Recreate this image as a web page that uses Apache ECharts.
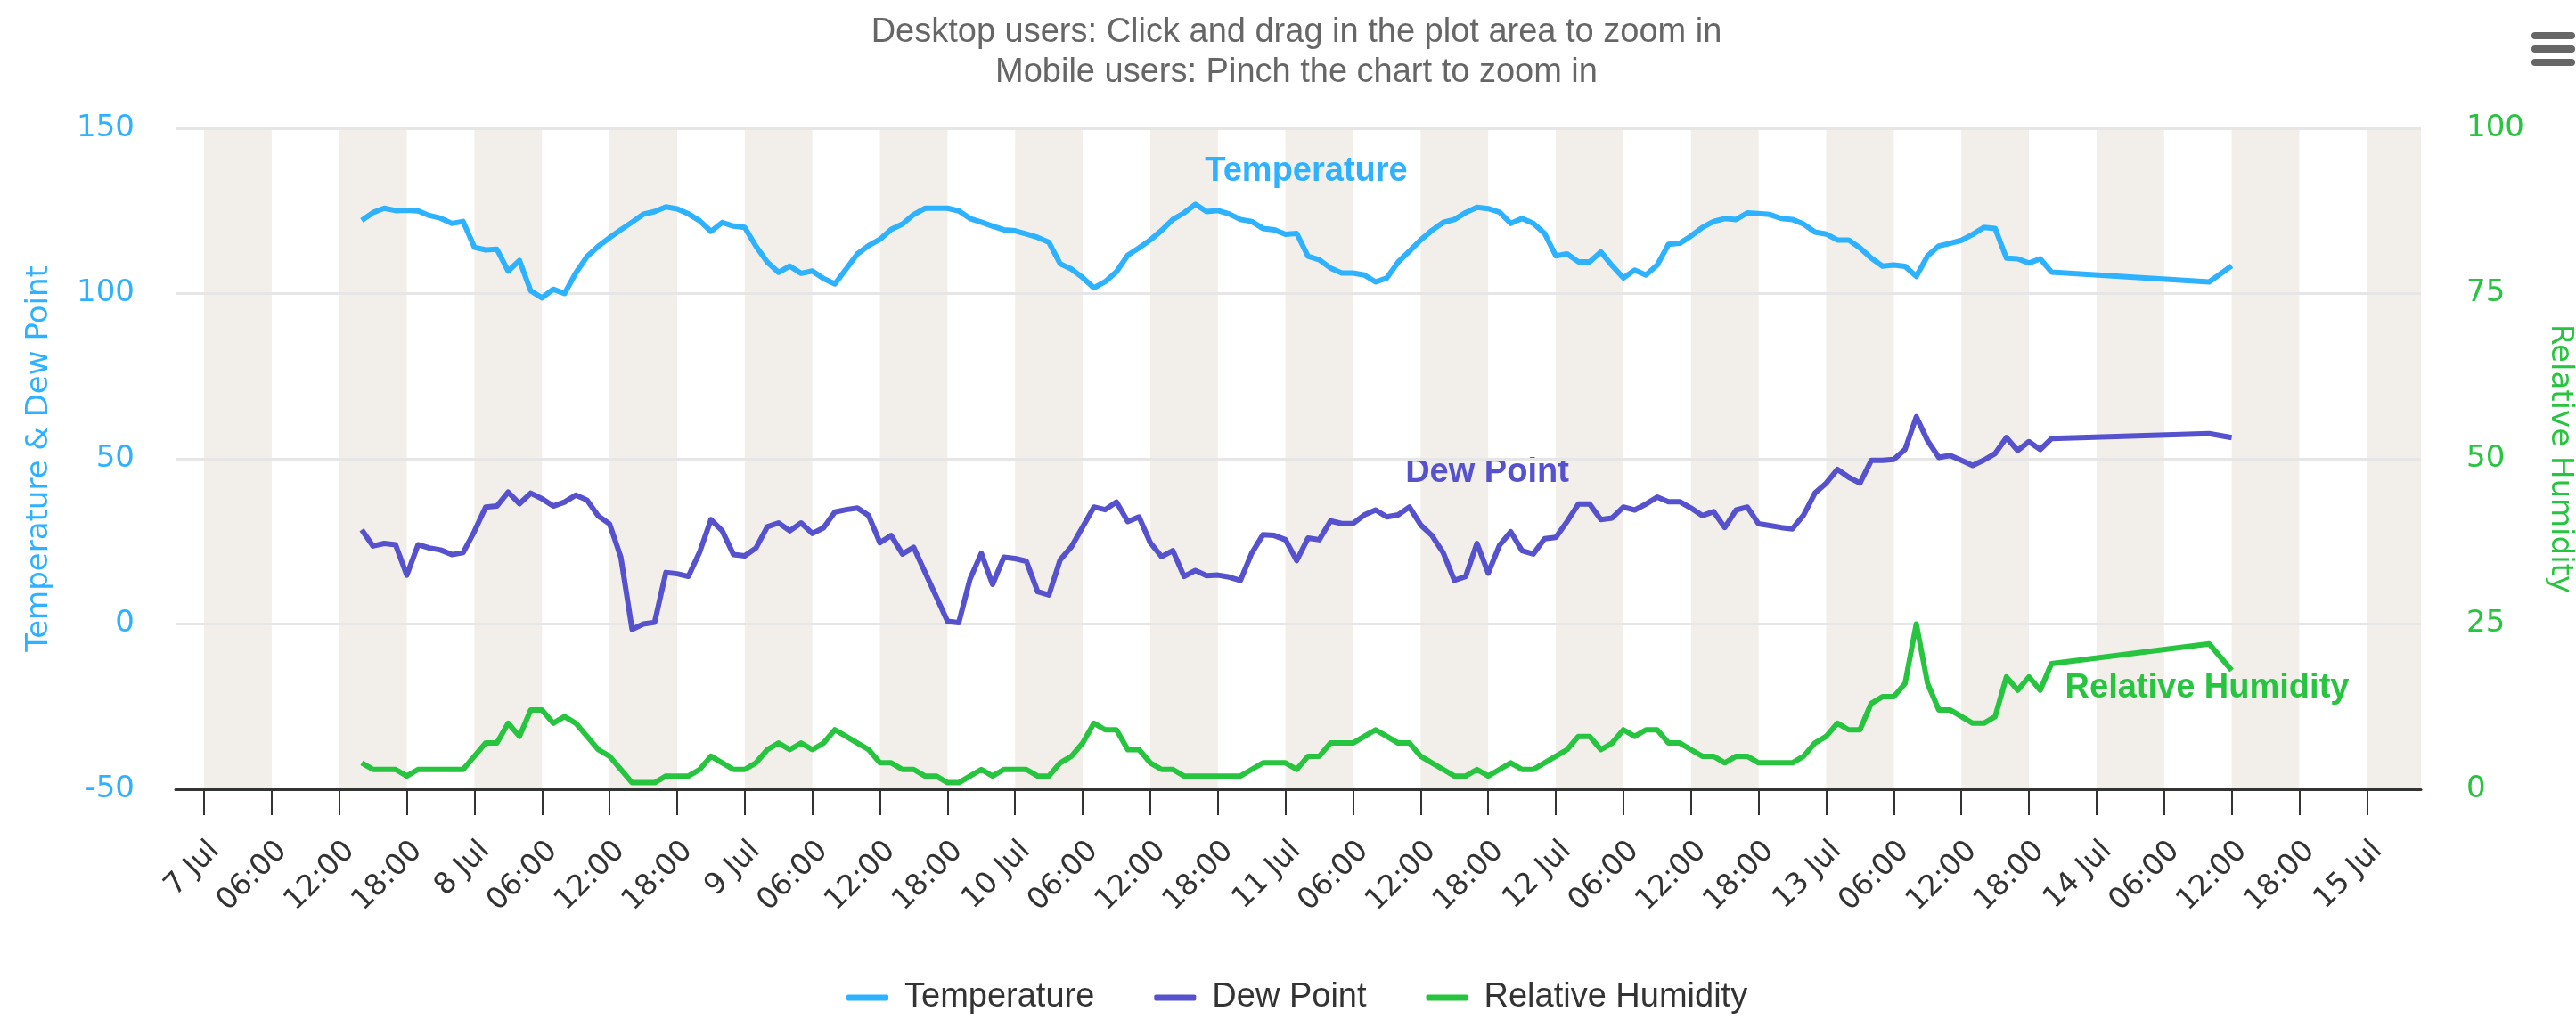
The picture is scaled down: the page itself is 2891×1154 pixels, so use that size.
<!DOCTYPE html>
<html>
<head>
<meta charset="utf-8">
<script src="https://cdn.jsdelivr.net/npm/echarts@6/dist/echarts.min.js"></script>
<style>
html, body { margin: 0; padding: 0; background: #fff; }
#chart { width: 2891px; height: 1154px; }
</style>
</head>
<body>
<div id="chart"></div>
<script>
// hours counted from 7 Jul 00:00
const hours = [
    14, 15, 16, 17, 18, 19, 20, 21, 22, 23,
    24, 25, 26, 27, 28, 29, 30, 31, 32, 33,
    34, 35, 36, 37, 38, 39, 40, 41, 42, 43,
    44, 45, 46, 47, 48, 49, 50, 51, 52, 53,
    54, 55, 56, 57, 58, 59, 60, 61, 62, 63,
    64, 65, 66, 67, 68, 69, 70, 71, 72, 73,
    74, 75, 76, 77, 78, 79, 80, 81, 82, 83,
    84, 85, 86, 87, 88, 89, 90, 91, 92, 93,
    94, 95, 96, 97, 98, 99, 100, 101, 102, 103,
    104, 105, 106, 107, 108, 109, 110, 111, 112, 113,
    114, 115, 116, 117, 118, 119, 120, 121, 122, 123,
    124, 125, 126, 127, 128, 129, 130, 131, 132, 133,
    134, 135, 136, 137, 138, 139, 140, 141, 142, 143,
    144, 145, 146, 147, 148, 149, 150, 151, 152, 153,
    154, 155, 156, 157, 158, 159, 160, 161, 162, 163,
    164, 178, 180
];

const temperature = [
    122.1, 124.5, 125.8, 125.1, 125.2, 125.0, 123.6, 122.8, 121.2, 121.8,
    114.0, 113.2, 113.4, 106.8, 110.0, 100.8, 98.7, 101.3, 100.0, 106.2,
    111.2, 114.3, 116.9, 119.3, 121.6, 124.0, 124.8, 126.2, 125.6, 124.1,
    122.0, 118.8, 121.5, 120.4, 120.0, 114.3, 109.5, 106.4, 108.3, 106.1,
    106.8, 104.5, 102.9, 107.4, 112.0, 114.5, 116.4, 119.4, 121.0, 123.9,
    125.8, 125.8, 125.8, 125.0, 122.7, 121.6, 120.4, 119.3, 119.0, 118.0,
    117.0, 115.5, 109.0, 107.4, 104.8, 101.7, 103.6, 106.6, 111.6, 113.8,
    116.2, 119.1, 122.4, 124.4, 127.0, 124.8, 125.1, 124.1, 122.4, 121.8,
    119.7, 119.3, 117.9, 118.2, 111.3, 110.2, 107.7, 106.2, 106.2, 105.6,
    103.5, 104.7, 109.5, 112.8, 116.2, 119.1, 121.5, 122.4, 124.5, 126.1,
    125.7, 124.6, 121.2, 122.7, 121.2, 118.2, 111.4, 112.0, 109.6, 109.6,
    112.6, 108.4, 104.7, 107.1, 105.6, 108.6, 114.9, 115.2, 117.4, 120.0,
    121.8, 122.7, 122.4, 124.4, 124.2, 123.9, 122.7, 122.4, 121.0, 118.6,
    118.0, 116.2, 116.2, 113.8, 110.7, 108.3, 108.6, 108.2, 105.2, 111.4,
    114.4, 115.2, 116.1, 117.9, 120.0, 119.7, 110.7, 110.5, 109.2, 110.5,
    106.5, 103.5, 108.4
];

const dewPoint = [
    28.5, 23.6, 24.4, 24.0, 14.8, 24.0, 23.0, 22.4, 21.0, 21.6,
    28.0, 35.4, 35.7, 39.9, 36.4, 39.6, 37.9, 35.7, 36.9, 39.0,
    37.5, 32.7, 30.3, 20.2, -1.6, 0.0, 0.5, 15.6, 15.2, 14.4,
    21.8, 31.6, 28.2, 21.0, 20.6, 23.0, 29.4, 30.6, 28.2, 30.6,
    27.4, 29.1, 33.9, 34.6, 35.1, 32.8, 24.6, 26.8, 21.2, 23.2,
    15.7, 8.3, 0.8, 0.4, 13.6, 21.4, 12.0, 20.2, 19.8, 19.0,
    9.8, 8.8, 19.4, 23.4, 29.4, 35.4, 34.6, 36.9, 31.0, 32.4,
    24.6, 20.4, 22.2, 14.4, 16.2, 14.6, 14.8, 14.2, 13.2, 21.4,
    27.0, 26.8, 25.5, 19.2, 26.0, 25.5, 31.2, 30.4, 30.4, 33.0,
    34.5, 32.4, 33.0, 35.4, 30.0, 26.8, 21.6, 13.2, 14.4, 24.4,
    15.4, 23.8, 27.9, 22.2, 21.2, 25.8, 26.2, 31.0, 36.3, 36.3,
    31.6, 32.1, 35.4, 34.5, 36.3, 38.4, 37.0, 37.0, 35.1, 32.8,
    34.0, 29.2, 34.5, 35.4, 30.3, 29.8, 29.2, 28.8, 33.0, 39.6,
    42.6, 46.8, 44.4, 42.6, 49.5, 49.5, 49.8, 52.8, 62.7, 55.5,
    50.4, 51.0, 49.5, 48.0, 49.6, 51.6, 56.4, 52.5, 55.2, 52.8,
    56.1, 57.6, 56.4
];

const humidity = [
    4, 3, 3, 3, 2, 3, 3, 3, 3, 3,
    5, 7, 7, 10, 8, 12, 12, 10, 11, 10,
    8, 6, 5, 3, 1, 1, 1, 2, 2, 2,
    3, 5, 4, 3, 3, 4, 6, 7, 6, 7,
    6, 7, 9, 8, 7, 6, 4, 4, 3, 3,
    2, 2, 1, 1, 2, 3, 2, 3, 3, 3,
    2, 2, 4, 5, 7, 10, 9, 9, 6, 6,
    4, 3, 3, 2, 2, 2, 2, 2, 2, 3,
    4, 4, 4, 3, 5, 5, 7, 7, 7, 8,
    9, 8, 7, 7, 5, 4, 3, 2, 2, 3,
    2, 3, 4, 3, 3, 4, 5, 6, 8, 8,
    6, 7, 9, 8, 9, 9, 7, 7, 6, 5,
    5, 4, 5, 5, 4, 4, 4, 4, 5, 7,
    8, 10, 9, 9, 13, 14, 14, 16, 25, 16,
    12, 12, 11, 10, 10, 11, 17, 15, 17, 15,
    19, 22, 18
];

const tickHours = [
    0, 6, 12, 18, 24, 30, 36, 42, 48, 54, 60, 66, 72, 78, 84, 90, 96,
    102, 108, 114, 120, 126, 132, 138, 144, 150, 156, 162, 168, 174, 180, 186, 192
];
const tickLabels = [
    "7 Jul", "06:00", "12:00", "18:00", "8 Jul", "06:00", "12:00", "18:00",
    "9 Jul", "06:00", "12:00", "18:00", "10 Jul", "06:00", "12:00", "18:00",
    "11 Jul", "06:00", "12:00", "18:00", "12 Jul", "06:00", "12:00", "18:00",
    "13 Jul", "06:00", "12:00", "18:00", "14 Jul", "06:00", "12:00", "18:00",
    "15 Jul"
];

const X_MIN = -2.53;
const X_MAX = 196.8;
// alternate shading runs tick to tick, last band up to the plot edge
const bandEdges = tickHours.concat([X_MAX]);

const TEMP_COLOR = "#2eb2ff";
const DEW_COLOR = "#5651cc";
const RH_COLOR = "#27c43f";
const SANS = "Liberation Sans";
const AXIS_FONT = "DejaVu Sans";

const pair = values => hours.map((h, i) => [h, values[i]]);

const chart = echarts.init(document.getElementById("chart"), null, { renderer: "canvas" });

chart.setOption({
    animation: false,
    backgroundColor: "#fff",
    title: {
        text: "Desktop users: Click and drag in the plot area to zoom in\nMobile users: Pinch the chart to zoom in",
        left: 1455,
        top: 14,
        textAlign: "center",
        padding: 0,
        textStyle: {
            fontFamily: SANS,
            fontSize: 38,
            fontWeight: "normal",
            color: "#666",
            lineHeight: 45,
        },
    },
    legend: {
        left: 950,
        top: 1101,
        padding: 0,
        itemGap: 67,
        itemWidth: 47,
        itemHeight: 7,
        icon: "roundRect",
        textStyle: {
            fontFamily: SANS,
            fontSize: 38,
            color: "#333",
            padding: [0, 0, 0, 13],
        },
        data: ["Temperature", "Dew Point", "Relative Humidity"],
    },
    grid: {
        left: 197,
        right: 174,
        top: 144,
        bottom: 268,
        containLabel: false,
        outerBoundsMode: "none",
    },
    xAxis: [
        {
            type: "value",
            min: X_MIN,
            max: X_MAX,
            axisLine: { onZero: false, lineStyle: { color: "#333", width: 3 } },
            axisTick: {
                customValues: tickHours,
                length: 29,
                lineStyle: { color: "#333", width: 2 },
            },
            axisLabel: {
                customValues: tickHours,
                rotate: 45,
                margin: 52,
                align: "right",
                verticalAlign: "top",
                lineHeight: 34,
                fontFamily: AXIS_FONT,
                fontSize: 33,
                color: "#333",
                formatter: v => tickLabels[tickHours.indexOf(v)] || "",
            },
            splitLine: { show: false },
        },
        {
            type: "value",
            min: X_MIN,
            max: X_MAX,
            position: "bottom",
            z: -1,
            axisLine: { show: false },
            axisTick: { show: false, customValues: bandEdges },
            axisLabel: { show: false },
            splitLine: { show: false },
            splitArea: {
                show: true,
                areaStyle: { color: ["#f2efea", "rgba(255,255,255,0)"] },
            },
        },
    ],
    yAxis: [
        {
            type: "value",
            min: -50,
            max: 150,
            interval: 50,
            name: "Temperature & Dew Point",
            nameLocation: "middle",
            nameGap: 136,
            nameTextStyle: { color: TEMP_COLOR, fontFamily: AXIS_FONT, fontSize: 34 },
            axisLine: { show: false },
            axisTick: { show: false },
            axisLabel: { color: TEMP_COLOR, fontFamily: AXIS_FONT, fontSize: 34, margin: 46 },
            splitLine: { lineStyle: { color: "#e6e6e6", width: 3 } },
        },
        {
            type: "value",
            min: 0,
            max: 100,
            interval: 25,
            position: "right",
            name: "Relative Humidity",
            nameLocation: "middle",
            nameRotate: -90,
            nameGap: 139,
            nameTextStyle: { color: RH_COLOR, fontFamily: AXIS_FONT, fontSize: 34 },
            axisLine: { show: false },
            axisTick: { show: false },
            axisLabel: { color: RH_COLOR, fontFamily: AXIS_FONT, fontSize: 34, margin: 51 },
            splitLine: { show: false },
        },
    ],
    graphic: [
        {
            type: "text", x: 1466, y: 193, silent: true,
            style: { text: "Temperature", fill: TEMP_COLOR, font: "bold 38px 'Liberation Sans'", align: "center", verticalAlign: "middle" },
        },
        {
            type: "text", x: 1669, y: 531, silent: true,
            style: { text: "Dew Point", fill: DEW_COLOR, font: "bold 38px 'Liberation Sans'", align: "center", verticalAlign: "middle" },
        },
        {
            type: "text", x: 2477, y: 773, silent: true,
            style: { text: "Relative Humidity", fill: RH_COLOR, font: "bold 38px 'Liberation Sans'", align: "center", verticalAlign: "middle" },
        },
        { type: "rect", shape: { x: 2841, y: 36, width: 49, height: 8, r: 4 }, style: { fill: "#666" } },
        { type: "rect", shape: { x: 2841, y: 51, width: 49, height: 8, r: 4 }, style: { fill: "#666" } },
        { type: "rect", shape: { x: 2841, y: 66, width: 49, height: 8, r: 4 }, style: { fill: "#666" } },
    ],
    series: [
        {
            name: "Temperature",
            type: "line",
            xAxisIndex: 0,
            yAxisIndex: 0,
            data: pair(temperature),
            showSymbol: false,
            symbol: "none",
            lineStyle: { width: 6, color: TEMP_COLOR, join: "round" },
            itemStyle: { color: TEMP_COLOR },
        },
        {
            name: "Dew Point",
            type: "line",
            xAxisIndex: 0,
            yAxisIndex: 0,
            data: pair(dewPoint),
            showSymbol: false,
            symbol: "none",
            lineStyle: { width: 6, color: DEW_COLOR, join: "round" },
            itemStyle: { color: DEW_COLOR },
        },
        {
            name: "Relative Humidity",
            type: "line",
            xAxisIndex: 0,
            yAxisIndex: 1,
            data: pair(humidity),
            showSymbol: false,
            symbol: "none",
            lineStyle: { width: 6, color: RH_COLOR, join: "round" },
            itemStyle: { color: RH_COLOR },
        },
    ],
});
</script>
</body>
</html>
